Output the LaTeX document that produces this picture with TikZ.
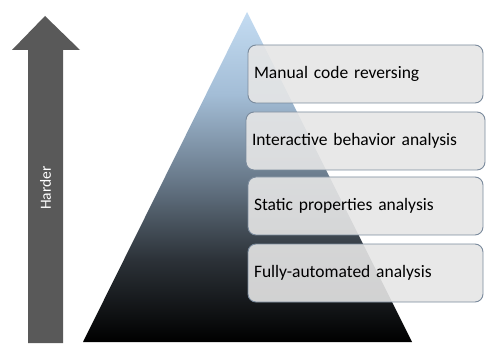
\documentclass[tikz,border=0pt]{standalone}
\usepackage{fontspec}
\setmainfont{Carlito}
\setsansfont{Carlito}
\definecolor{arrowgray}{HTML}{595959}
\definecolor{boxline}{HTML}{7A8A9C}
\definecolor{boxfill}{HTML}{E6E6E6}
\definecolor{skyblue}{HTML}{C4DCF2}
\definecolor{midblue}{HTML}{A3BDD6}
\definecolor{slate}{HTML}{6A7B8C}
\definecolor{darkslate}{HTML}{2C3238}
\pgfdeclareverticalshading{pyramidshade}{100bp}{%
  color(0bp)=(black); color(25bp)=(black); color(37.5bp)=(darkslate);
  color(50bp)=(slate); color(62.5bp)=(midblue); color(75bp)=(skyblue);
  color(100bp)=(skyblue)}
\tikzset{
  levelbox/.style={draw=boxline, line width=0.9pt, fill=boxfill, fill opacity=0.9,
    text opacity=1, rounded corners=8pt, minimum width=235pt, minimum height=58pt,
    text width=223pt, align=left, inner sep=6pt, font=\fontsize{17.5}{21}\selectfont}
}
\begin{document}
\begin{tikzpicture}[x=1pt, y=-1pt]
  \useasboundingbox (0,0) rectangle (500,355);
  % difficulty arrow
  \fill[arrowgray] (28,343) -- (28,50) -- (12,50) -- (45,16) -- (80,50) -- (63,50) -- (63,343) -- cycle;
  \node[text=white, rotate=90, font=\fontsize{15.5}{18}\selectfont] (harder) at (45.5,188) {Harder};
  % pyramid
  \shade[shading=pyramidshade] (83,342) -- (247,12) -- (412,342) -- cycle;
  % levels
  \node[levelbox] (manual) at (365.5,74) {Manual code reversing};
  \node[levelbox, minimum width=239pt, text width=227pt] (interactive) at (365.5,141) {Interactive behavior analysis};
  \node[levelbox] (static) at (365.5,206) {Static properties analysis};
  \node[levelbox] (automated) at (365.5,273) {Fully-automated analysis};
\end{tikzpicture}
\end{document}
